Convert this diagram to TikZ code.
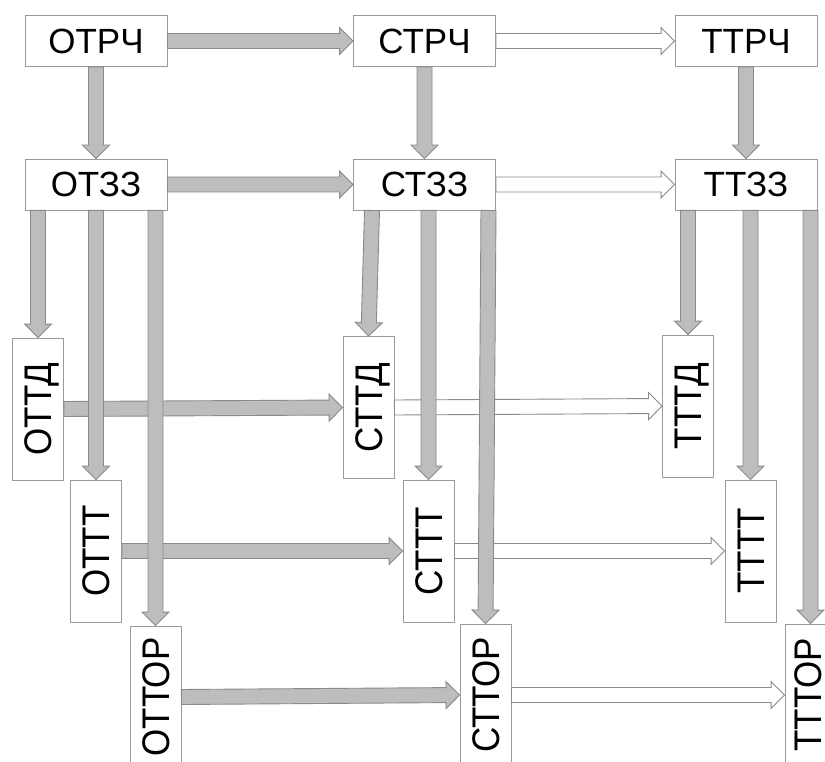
\documentclass[tikz,border=0pt]{standalone}
\usepackage{fontspec}
\setmainfont{Liberation Sans}
\usetikzlibrary{calc}
\definecolor{afill}{HTML}{BDBDBD}
\definecolor{aline}{HTML}{8A8A8A}
\definecolor{bline}{HTML}{999999}
\def\asw{7.5pt}\def\ahw{13.5pt}\def\ahl{13.5pt}
\newcommand\blockarrow[3]{%
  \draw[#1] let \p1=(#2), \p2=(#3),
      \n1={atan2(\y2-\y1,\x2-\x1)},
      \n2={veclen(\x2-\x1,\y2-\y1)-\ahl} in
    ($(\p1)+(\n1+90:\asw)$) -- ($(\p1)+(\n1:\n2)+(\n1+90:\asw)$)
    -- ($(\p1)+(\n1:\n2)+(\n1+90:\ahw)$) -- (\p2)
    -- ($(\p1)+(\n1:\n2)+(\n1-90:\ahw)$) -- ($(\p1)+(\n1:\n2)+(\n1-90:\asw)$)
    -- ($(\p1)+(\n1-90:\asw)$) -- cycle;}
\begin{document}
\begin{tikzpicture}[x=1pt,y=-1pt,
  hbox/.style={draw=bline, line width=0.9pt, fill=white, inner sep=0pt,
    minimum width=142pt, minimum height=51pt,
    font=\fontsize{35}{35}\selectfont, text height=25pt, text depth=0pt},
  vbox/.style={hbox, rotate=90, minimum width=142pt, minimum height=51pt, text height=27.5pt},
  fatarrow/.style={fill=afill, draw=aline, line width=0.9pt, line join=miter},
  thinarrow/.style={fill=white, draw=aline, line width=0.9pt, line join=miter}]
\clip (0,0) rectangle (825,762);
\fill[white] (0,0) rectangle (825,762);
% row 1
\node[hbox] (otrch) at (96,41) {ОТРЧ};
\node[hbox] (strch) at (424.5,41) {СТРЧ};
\node[hbox] (ttrch) at (746,41) {ТТРЧ};
% row 2
\node[hbox] (otzz) at (96,184.5) {ОТЗЗ};
\node[hbox] (stzz) at (424.5,184.5) {СТЗЗ};
\node[hbox] (ttzz) at (746,184.5) {ТТЗЗ};
% vertical boxes
\node[vbox] (ottd) at (38,409) {\scalebox{1}[1.1]{ОТТД}};
\node[vbox] (sttd) at (368.5,407.5) {\scalebox{1}[1.1]{СТТД}};
\node[vbox] (tttd) at (688,406) {\scalebox{1}[1.1]{ТТТД}};
\node[vbox] (ottt) at (96,551) {\scalebox{1}[1.1]{ОТТТ}};
\node[vbox] (sttt) at (428.5,551) {\scalebox{1}[1.1]{СТТТ}};
\node[vbox] (tttt) at (750.5,551) {\scalebox{1}[1.1]{ТТТТ}};
\node[vbox] (ottor) at (155.5,697) {\scalebox{1}[1.1]{ОТТОР}};
\node[vbox] (sttor) at (485.5,695) {\scalebox{1}[1.1]{СТТОР}};
\node[vbox, minimum height=46pt] (tttor) at (808,695) {\scalebox{1}[1.1]{ТТТОР}};
% horizontal arrows
\blockarrow{fatarrow}{otrch.east}{strch.west}
\blockarrow{thinarrow}{strch.east}{ttrch.west}
\blockarrow{fatarrow}{otzz.east}{stzz.west}
\blockarrow{thinarrow}{stzz.east}{ttzz.west}
\blockarrow{fatarrow}{ottd.south}{sttd.north}
\blockarrow{thinarrow}{sttd.south}{tttd.north}
\blockarrow{fatarrow}{ottt.south}{sttt.north}
\blockarrow{thinarrow}{sttt.south}{tttt.north}
\blockarrow{fatarrow}{ottor.south}{sttor.north}
\blockarrow{thinarrow}{sttor.south}{tttor.north}
% vertical arrows
\blockarrow{fatarrow}{otrch.south}{otzz.north}
\blockarrow{fatarrow}{strch.south}{stzz.north}
\blockarrow{fatarrow}{ttrch.south}{ttzz.north}
\blockarrow{fatarrow}{otzz.south -| ottd.east}{ottd.east}
\blockarrow{fatarrow}{otzz.south -| ottt.east}{ottt.east}
\blockarrow{fatarrow}{otzz.south -| ottor.east}{ottor.east}
\blockarrow{fatarrow}{[xshift=3.5pt]stzz.south -| sttd.east}{sttd.east}
\blockarrow{fatarrow}{stzz.south -| sttt.east}{sttt.east}
\blockarrow{fatarrow}{[xshift=3pt]stzz.south -| sttor.east}{sttor.east}
\blockarrow{fatarrow}{ttzz.south -| tttd.east}{tttd.east}
\blockarrow{fatarrow}{ttzz.south -| tttt.east}{tttt.east}
\blockarrow{fatarrow}{[xshift=2.5pt]ttzz.south -| tttor.east}{[xshift=2.5pt]tttor.east}
\end{tikzpicture}
\end{document}
